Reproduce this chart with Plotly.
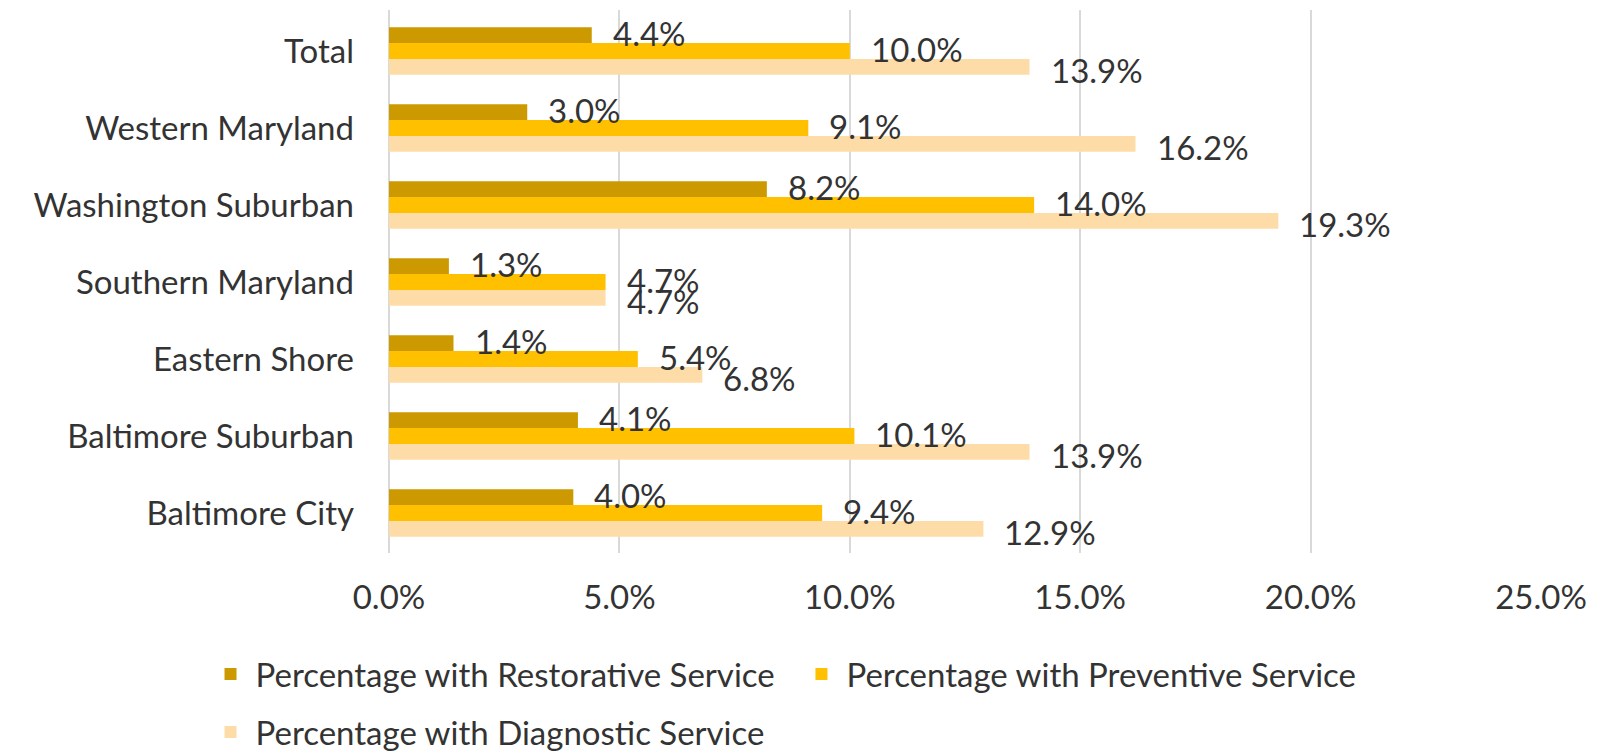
import plotly.graph_objects as go

regions = ["Total", "Western Maryland", "Washington Suburban", "Southern Maryland",
           "Eastern Shore", "Baltimore Suburban", "Baltimore City"]
restorative = [4.4, 3.0, 8.2, 1.3, 1.4, 4.1, 4.0]
preventive = [10.0, 9.1, 14.0, 4.7, 5.4, 10.1, 9.4]
diagnostic = [13.9, 16.2, 19.3, 4.7, 6.8, 13.9, 12.9]
x_ticks = [0, 5, 10, 15, 20, 25]
x_tick_labels = ["0.0%", "5.0%", "10.0%", "15.0%", "20.0%", "25.0%"]

# (name, values, colour, legend id, label vertical shift in px)
series = [
    ("Percentage with Restorative Service", restorative, "#CC9A00", "legend", 18),
    ("Percentage with Preventive Service", preventive, "#FFC000", "legend2", 2),
    ("Percentage with Diagnostic Service", diagnostic, "#FEDCA8", "legend3", -19),
]

FONT = "Lato, 'Open Sans', sans-serif"
FS = 33
TXT = "#333333"

fig = go.Figure()
annotations = []
for name, vals, color, leg, dy in series:
    fig.add_trace(go.Bar(
        y=regions, x=vals, name=name, orientation="h",
        marker=dict(color=color, line=dict(width=0)),
        legend=leg,
    ))
    for r, v in zip(regions, vals):
        annotations.append(dict(
            x=v, y=r, xref="x", yref="y", text=f"{v:.1f}%", showarrow=False,
            xanchor="left", yanchor="middle", xshift=19, yshift=dy,
            font=dict(family=FONT, size=FS, color=TXT),
        ))

legend_common = dict(
    orientation="h", xref="container", yref="container",
    xanchor="left", yanchor="middle",
    font=dict(family=FONT, size=FS, color=TXT), itemwidth=40,
    bgcolor="rgba(0,0,0,0)",
)

fig.update_layout(
    width=1598, height=746,
    margin=dict(l=381, r=65, t=2, b=201, autoexpand=False),
    paper_bgcolor="white", plot_bgcolor="white",
    barmode="group", bargap=0.38, bargroupgap=0,
    font=dict(family=FONT, size=FS, color=TXT),
    annotations=annotations,
    legend=dict(legend_common, x=0.1236, y=0.1072),
    legend2=dict(legend_common, x=0.4934, y=0.1072),
    legend3=dict(legend_common, x=0.1236, y=0.0295),
    showlegend=True,
)
fig.update_xaxes(
    range=[0, 25], tickvals=x_ticks, ticktext=x_tick_labels,
    showgrid=True, gridcolor="#D9D9D9", gridwidth=1.5,
    zeroline=True, zerolinecolor="#D9D9D9", zerolinewidth=1.5,
    showline=False, ticks="", ticklabelstandoff=22, automargin=False,
    tickfont=dict(family=FONT, size=FS, color=TXT),
)
fig.update_yaxes(
    categoryorder="array", categoryarray=regions, autorange="reversed",
    showgrid=False, zeroline=False, showline=False, ticks="",
    ticklabelstandoff=34, automargin=False,
    tickfont=dict(family=FONT, size=FS, color=TXT),
)

fig.write_html("out.html")
